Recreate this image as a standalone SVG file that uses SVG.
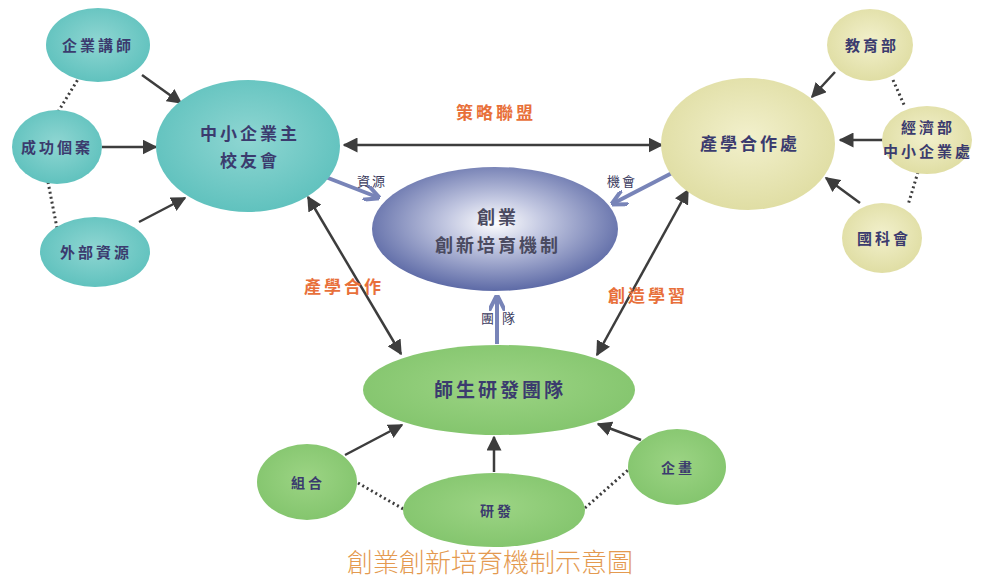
<svg xmlns="http://www.w3.org/2000/svg" width="986" height="583" viewBox="0 0 986 583">
<defs>
<radialGradient id="gTeal" cx="50%" cy="45%" r="60%"><stop offset="0" stop-color="#8fd6d2"/><stop offset="1" stop-color="#5cc0bc"/></radialGradient>
<radialGradient id="gYel" cx="50%" cy="45%" r="60%"><stop offset="0" stop-color="#f2f0cc"/><stop offset="1" stop-color="#dedca0"/></radialGradient>
<radialGradient id="gGreen" cx="50%" cy="45%" r="60%"><stop offset="0" stop-color="#9cd484"/><stop offset="1" stop-color="#82c46c"/></radialGradient>
<radialGradient id="gBlue" cx="50%" cy="45%" r="55%"><stop offset="0" stop-color="#ffffff"/><stop offset="0.35" stop-color="#c4c9e2"/><stop offset="1" stop-color="#5d6aa6"/></radialGradient>
<marker id="ah" viewBox="0 0 10 10" refX="9" refY="5" markerWidth="6" markerHeight="6" orient="auto-start-reverse"><path d="M0,0 L10,5 L0,10 z" fill="#3d3d3d"/></marker>
<marker id="bh" viewBox="0 0 10 10" refX="8" refY="5" markerWidth="4" markerHeight="4" orient="auto"><path d="M0,0 L10,5 L0,10" fill="none" stroke="#7884b8" stroke-width="2.5"/></marker>
</defs>
<style>
.t{font-family:"Noto Sans CJK TC","Noto Sans CJK SC",sans-serif;font-weight:bold;fill:#3b3b6e;text-anchor:middle;letter-spacing:3px}
.o{font-family:"Noto Sans CJK TC","Noto Sans CJK SC",sans-serif;font-weight:bold;fill:#e8703a;text-anchor:middle;letter-spacing:3px;font-size:17px}
.s{font-family:"Noto Sans CJK TC","Noto Sans CJK SC",sans-serif;fill:#3b3b5e;text-anchor:middle;font-size:13px;letter-spacing:2px}
.c{stroke:#3d3d3d;stroke-width:2.5;fill:none;marker-end:url(#ah)}
.d{stroke:#3d3d3d;stroke-width:3;fill:none;stroke-dasharray:2 3}
.b{stroke:#7884b8;stroke-width:4;fill:none;marker-end:url(#bh)}
</style>
<rect width="986" height="583" fill="#ffffff"/>
<g id="connectors">
<line class="d" x1="80" y1="76" x2="58" y2="112"/>
<line class="d" x1="48" y1="182" x2="57" y2="228"/>
<line class="d" x1="893" y1="80" x2="905" y2="107"/>
<line class="d" x1="918" y1="172" x2="908" y2="205"/>
<line class="d" x1="358" y1="483" x2="405" y2="510"/>
<line class="d" x1="585" y1="508" x2="628" y2="470"/>
<line class="c" x1="142" y1="75" x2="181" y2="103"/>
<line class="c" x1="102" y1="147" x2="156" y2="147"/>
<line class="c" x1="139" y1="222" x2="185" y2="198"/>
<line class="c" x1="344" y1="145" x2="662" y2="145" marker-start="url(#ah)"/>
<line class="c" x1="308" y1="197" x2="401" y2="354" marker-start="url(#ah)"/>
<line class="c" x1="688" y1="190" x2="597" y2="355" marker-start="url(#ah)"/>
<line class="c" x1="835" y1="72" x2="812" y2="97"/>
<line class="c" x1="883" y1="140" x2="840" y2="140"/>
<line class="c" x1="860" y1="203" x2="826" y2="178"/>
<line class="c" x1="345" y1="455" x2="402" y2="425"/>
<line class="c" x1="494" y1="472" x2="494" y2="437"/>
<line class="c" x1="641" y1="440" x2="598" y2="424"/>
<line class="b" x1="323" y1="176" x2="377" y2="197"/>
<line class="b" x1="672" y1="173" x2="614" y2="203"/>
<line class="b" x1="497" y1="344" x2="497" y2="298"/>
</g>
<g id="n-teacher"><ellipse cx="98" cy="45" rx="52" ry="37" fill="url(#gTeal)"/><text class="t" x="98" y="51" font-size="15">企業講師</text></g>
<g id="n-case"><ellipse cx="57" cy="147" rx="45" ry="37" fill="url(#gTeal)"/><text class="t" x="57" y="153" font-size="15">成功個案</text></g>
<g id="n-ext"><ellipse cx="95" cy="252" rx="55" ry="35" fill="url(#gTeal)"/><text class="t" x="96" y="258" font-size="15">外部資源</text></g>
<g id="n-alumni"><ellipse cx="248" cy="146" rx="92" ry="66" fill="url(#gTeal)"/><text class="t" x="250" y="140" font-size="17">中小企業主</text><text class="t" x="250" y="167" font-size="17">校友會</text></g>
<g id="n-core"><ellipse cx="495" cy="229" rx="123" ry="62" fill="url(#gBlue)"/><text class="t" x="498" y="224" font-size="18" style="fill:#4a4a60">創業</text><text class="t" x="498" y="252" font-size="18" style="fill:#4a4a60">創新培育機制</text></g>
<g id="n-office"><ellipse cx="748" cy="144" rx="87" ry="66" fill="url(#gYel)"/><text class="t" x="750" y="150" font-size="17">產學合作處</text></g>
<g id="n-moe"><ellipse cx="870" cy="45" rx="43" ry="36" fill="url(#gYel)"/><text class="t" x="872" y="51" font-size="15">教育部</text></g>
<g id="n-moea"><ellipse cx="927" cy="140" rx="45" ry="34" fill="url(#gYel)"/><text class="t" x="928" y="133" font-size="15">經濟部</text><text class="t" x="928" y="157" font-size="15">中小企業處</text></g>
<g id="n-nsc"><ellipse cx="882" cy="238" rx="40" ry="35" fill="url(#gYel)"/><text class="t" x="884" y="244" font-size="15">國科會</text></g>
<g id="n-team"><ellipse cx="499" cy="390" rx="136" ry="45" fill="url(#gGreen)"/><text class="t" x="500" y="397" font-size="19">師生研發團隊</text></g>
<g id="n-combo"><ellipse cx="307" cy="482" rx="50" ry="38" fill="url(#gGreen)"/><text class="t" x="308" y="488" font-size="14">組合</text></g>
<g id="n-rd"><ellipse cx="494" cy="510" rx="91" ry="37" fill="url(#gGreen)"/><text class="t" x="497" y="516" font-size="14">研發</text></g>
<g id="n-plan"><ellipse cx="677" cy="467" rx="49" ry="38" fill="url(#gGreen)"/><text class="t" x="678" y="473" font-size="14">企畫</text></g>
<g id="labels">
<text class="o" x="496" y="119">策略聯盟</text>
<text class="o" x="344" y="293">產學合作</text>
<text class="o" x="648" y="302">創造學習</text>
<text class="s" x="372" y="186">資源</text>
<text class="s" x="622" y="186">機會</text>
<text class="s" x="502" y="323" style="letter-spacing:8px">團隊</text>
<text x="490" y="572" font-family="Noto Sans CJK TC, Noto Sans CJK SC, sans-serif" font-size="26" fill="#e49a50" text-anchor="middle" font-weight="300">創業創新培育機制示意圖</text>
</g>
</svg>
